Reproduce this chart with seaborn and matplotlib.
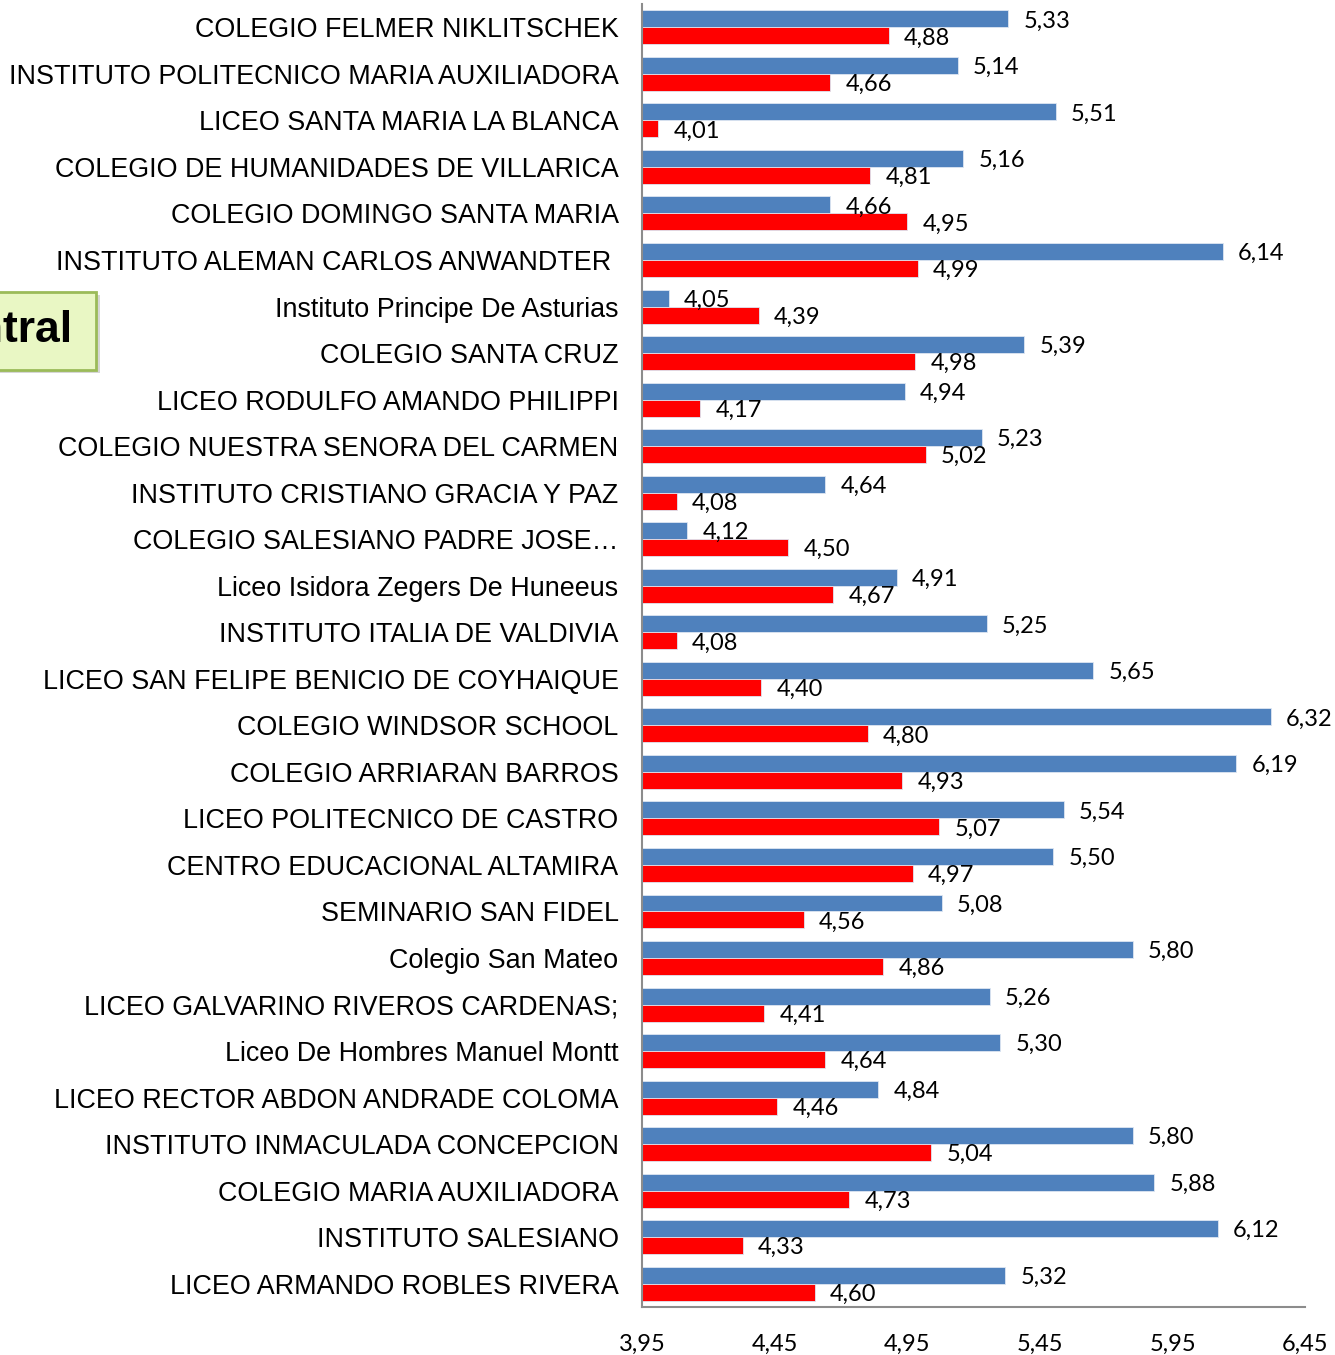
import pandas as pd
import numpy as np
import matplotlib.pyplot as plt
import seaborn as sns
from matplotlib.patches import FancyBboxPatch

schools = [
    "COLEGIO FELMER NIKLITSCHEK", "INSTITUTO POLITECNICO MARIA AUXILIADORA",
    "LICEO SANTA MARIA LA BLANCA", "COLEGIO DE HUMANIDADES DE VILLARICA",
    "COLEGIO DOMINGO SANTA MARIA", "INSTITUTO ALEMAN CARLOS ANWANDTER ",
    "Instituto Principe De Asturias", "COLEGIO SANTA CRUZ",
    "LICEO RODULFO AMANDO PHILIPPI", "COLEGIO NUESTRA SENORA DEL CARMEN",
    "INSTITUTO CRISTIANO GRACIA Y PAZ", "COLEGIO SALESIANO PADRE JOSE…",
    "Liceo Isidora Zegers De Huneeus", "INSTITUTO ITALIA DE VALDIVIA",
    "LICEO SAN FELIPE BENICIO DE COYHAIQUE", "COLEGIO WINDSOR SCHOOL",
    "COLEGIO ARRIARAN BARROS", "LICEO POLITECNICO DE CASTRO",
    "CENTRO EDUCACIONAL ALTAMIRA", "SEMINARIO SAN FIDEL", "Colegio San Mateo",
    "LICEO GALVARINO RIVEROS CARDENAS;", "Liceo De Hombres Manuel Montt",
    "LICEO RECTOR ABDON ANDRADE COLOMA", "INSTITUTO INMACULADA CONCEPCION",
    "COLEGIO MARIA AUXILIADORA", "INSTITUTO SALESIANO", "LICEO ARMANDO ROBLES RIVERA",
]
serie_azul = [5.33, 5.14, 5.51, 5.16, 4.66, 6.14, 4.05, 5.39, 4.94, 5.23, 4.64, 4.12, 4.91, 5.25,
              5.65, 6.32, 6.19, 5.54, 5.50, 5.08, 5.80, 5.26, 5.30, 4.84, 5.80, 5.88, 6.12, 5.32]
serie_roja = [4.88, 4.66, 4.01, 4.81, 4.95, 4.99, 4.39, 4.98, 4.17, 5.02, 4.08, 4.50, 4.67, 4.08,
              4.40, 4.80, 4.93, 5.07, 4.97, 4.56, 4.86, 4.41, 4.64, 4.46, 5.04, 4.73, 4.33, 4.60]
ticks = [3.95, 4.45, 4.95, 5.45, 5.95, 6.45]

df = pd.DataFrame({"Colegio": schools * 2,
                   "Nota": serie_azul + serie_roja,
                   "Serie": ["A"] * len(schools) + ["B"] * len(schools)})

sns.set_style("white")
plt.rcParams['font.family'] = ['Liberation Sans', 'DejaVu Sans']
plt.rcParams['text.color'] = 'black'
plt.rcParams['xtick.color'] = 'black'
plt.rcParams['ytick.color'] = 'black'

fig = plt.figure(figsize=(13.35, 13.55), dpi=100)
ax = fig.add_axes([0.481, 0.0354, 0.4966, 0.9616])

sns.barplot(data=df, y="Colegio", x="Nota", hue="Serie", orient="h",
            palette=["#4F81BD", "#FF0000"], saturation=1, width=0.73, gap=0, ax=ax,
            legend=False, errorbar=None, edgecolor="#DDE6F2", linewidth=0.6)

ax.set_xlim(3.95, 6.45)
ax.set_ylim(len(schools) - 0.5, -0.5)
ax.set_xticks(ticks)
ax.set_xticklabels([f"{t:.2f}".replace(".", ",") for t in ticks],
                   fontsize=17, family="Lato")
ax.tick_params(axis="x", length=0, pad=19)
ax.tick_params(axis="y", length=0, pad=17, labelsize=19.4)
ax.set_xlabel("")
ax.set_ylabel("")
for s in ["top", "right"]:
    ax.spines[s].set_visible(False)
for s in ["left", "bottom"]:
    ax.spines[s].set_color("#8C8C8C")
    ax.spines[s].set_linewidth(1.5)

for cont in ax.containers:
    for bar in cont:
        w = bar.get_width()
        ax.annotate(f"{w:.2f}".replace(".", ","),
                    (w, bar.get_y() + bar.get_height() / 2),
                    xytext=(11, -1.5), textcoords="offset points",
                    ha="left", va="center", fontsize=17, family="Lato")

# recuadro verde cortado a la izquierda
y0 = 1 - 370 / 1355
box = FancyBboxPatch((-0.06, y0), 0.132, 78 / 1355, boxstyle="square,pad=0",
                     transform=fig.transFigure, facecolor="#E9F7C4",
                     edgecolor="#9BBB59", linewidth=2, zorder=5)
shadow = FancyBboxPatch((-0.057, y0 - 3 / 1355), 0.132, 78 / 1355, boxstyle="square,pad=0",
                        transform=fig.transFigure, facecolor="#BBBBBB",
                        edgecolor="none", alpha=0.6, zorder=4)
fig.patches.extend([shadow, box])
fig.text(72 / 1335, 1 - 331 / 1355, "Central", ha="right", va="center",
         fontsize=32, fontweight="bold", zorder=6)

fig.savefig("out.png", dpi=100)
